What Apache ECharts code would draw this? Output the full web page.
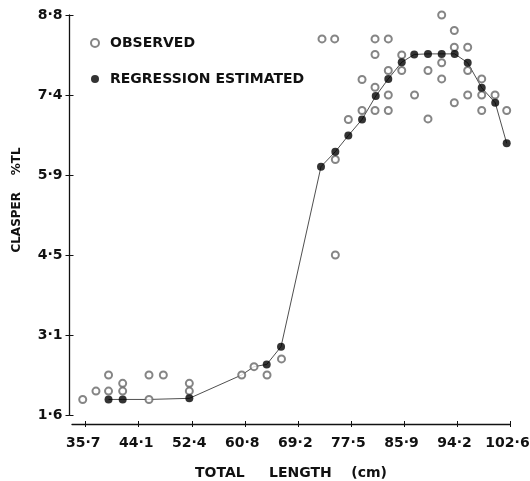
<!DOCTYPE html>
<html>
<head>
<meta charset="utf-8">
<script src="https://cdn.jsdelivr.net/npm/echarts@6/dist/echarts.min.js"></script>
<style>
  html, body { margin: 0; padding: 0; background: #fff; }
  #main { width: 530px; height: 481px; }
</style>
</head>
<body>
<div id="main"></div>
<script>
// observed clasper length (%TL) against total length (cm)
var obsX = [35.23, 37.32, 39.3, 39.3, 41.53, 41.53, 45.68, 47.94, 45.68, 52.04,
  52.04, 60.3, 62.24, 64.29, 66.57, 75.06, 75.06, 72.96, 74.96, 77.11,
  79.27, 79.27, 81.32, 81.32, 81.32, 81.32, 83.41, 83.41, 83.41, 83.41,
  85.53, 85.53, 87.55, 89.67, 89.67, 91.83, 91.83, 91.83, 93.82, 93.82,
  93.82, 95.93, 95.93, 95.93, 98.14, 98.14, 98.14, 100.24, 102.08];
var obsY = [1.88, 2.03, 2.32, 2.03, 2.17, 2.03, 2.32, 2.32, 1.88, 2.17,
  2.03, 2.32, 2.47, 2.32, 2.61, 4.48, 6.20, 8.37, 8.37, 6.92,
  7.64, 7.08, 8.37, 8.09, 7.50, 7.08, 8.37, 7.80, 7.36, 7.08,
  8.08, 7.80, 7.36, 7.80, 6.93, 8.80, 7.94, 7.65, 8.52, 8.22,
  7.22, 8.22, 7.80, 7.36, 7.65, 7.36, 7.08, 7.36, 7.08];

// regression curve; estFlag = 1 where an estimated (filled) point is drawn
var regX = [39.3, 41.53, 45.68, 52.04, 60.28, 62.24, 64.24, 66.5, 72.8, 75.06,
  77.11, 79.27, 81.43, 83.41, 85.53, 87.5, 89.67, 91.83, 93.88, 95.93,
  98.14, 100.27, 102.08];
var regY = [1.88, 1.88, 1.88, 1.90, 2.32, 2.47, 2.51, 2.83, 6.07, 6.34,
  6.63, 6.92, 7.34, 7.65, 7.95, 8.09, 8.10, 8.10, 8.10, 7.94,
  7.49, 7.22, 6.49];
var estFlag = [1, 1, 0, 1, 0, 0, 1, 1, 1, 1,
  1, 1, 1, 1, 1, 1, 1, 1, 1, 1,
  1, 1, 1];

var xTicks = [35.7, 44.0625, 52.425, 60.7875, 69.15, 77.5125, 85.875, 94.2375, 102.6];
var xTickLabels = ['35·7', '44·1', '52·4', '60·8', '69·2', '77·5', '85·9', '94·2', '102·6'];
var yTicks = [1.6, 3.04, 4.48, 5.92, 7.36, 8.8];
var yTickLabels = ['1·6', '3·1', '4·5', '5·9', '7·4', '8·8'];

var font = 'DejaVu Sans';

function tickLabel(ticks, labels) {
  return function (v) {
    var best = 0;
    for (var i = 1; i < ticks.length; i++) {
      if (Math.abs(ticks[i] - v) < Math.abs(ticks[best] - v)) best = i;
    }
    return labels[best];
  };
}

var obsData = obsX.map(function (x, i) { return [x, obsY[i]]; });
var regLine = regX.map(function (x, i) { return [x, regY[i]]; });
var regDots = regLine.filter(function (p, i) { return estFlag[i] === 1; });

var myChart = echarts.init(document.getElementById('main'), null, { renderer: 'canvas' });

var xBase = {
  type: 'value',
  min: 33.54,
  max: 102.6,
  position: 'bottom',
  offset: 9,
  splitLine: { show: false }
};
var yBase = {
  type: 'value',
  min: 1.6,
  max: 8.8,
  position: 'left',
  offset: 2.5,
  splitLine: { show: false }
};

var option = {
  backgroundColor: '#fff',
  animation: false,
  grid: { left: 72, right: 20, top: 15, bottom: 66, outerBoundsMode: 'none', containLabel: false },
  legend: {
    orient: 'vertical',
    left: 85,
    top: 31,
    itemWidth: 16,
    itemHeight: 8,
    itemGap: 22,
    textStyle: { fontFamily: font, fontWeight: 'bold', fontSize: 14, color: '#111', padding: [0, 0, 0, 2] },
    data: [
      { name: 'OBSERVED', icon: 'emptyCircle' },
      { name: 'REGRESSION ESTIMATED', icon: 'circle' }
    ]
  },
  xAxis: [
    Object.assign({}, xBase, {
      name: 'TOTAL     LENGTH    (cm)',
      nameLocation: 'middle',
      nameGap: 42,
      nameTextStyle: { fontFamily: font, fontWeight: 'bold', fontSize: 14, color: '#111' },
      axisLine: { lineStyle: { color: '#111', width: 1.3 } },
      axisTick: { length: 3, lineStyle: { color: '#111' }, customValues: xTicks },
      axisLabel: {
        fontFamily: font, fontWeight: 'bold', fontSize: 14, color: '#111', margin: 12,
        padding: [0, 5, 0, 0],
        customValues: xTicks, formatter: tickLabel(xTicks, xTickLabels)
      }
    }),
    Object.assign({}, xBase, {
      axisLine: { show: false },
      axisTick: { inside: true, length: 3, lineStyle: { color: '#111' }, customValues: xTicks },
      axisLabel: { show: false }
    })
  ],
  yAxis: [
    Object.assign({}, yBase, {
      name: 'CLASPER    %TL',
      nameLocation: 'middle',
      nameRotate: 90,
      nameGap: 47,
      nameTextStyle: { fontFamily: font, fontWeight: 'bold', fontSize: 12, color: '#111', padding: [0, 0, 0, 30] },
      axisLine: { lineStyle: { color: '#111', width: 1.3 } },
      axisTick: { length: 4, lineStyle: { color: '#111' }, customValues: yTicks },
      axisLabel: {
        fontFamily: font, fontWeight: 'bold', fontSize: 14, color: '#111', margin: 7,
        customValues: yTicks, formatter: tickLabel(yTicks, yTickLabels)
      }
    }),
    Object.assign({}, yBase, {
      axisLine: { show: false },
      axisTick: { inside: true, length: 4, lineStyle: { color: '#111' }, customValues: yTicks },
      axisLabel: { show: false }
    })
  ],
  series: [
    {
      name: 'curve',
      type: 'line',
      data: regLine,
      showSymbol: false,
      lineStyle: { color: '#222', width: 0.8 },
      z: 1
    },
    {
      name: 'OBSERVED',
      type: 'scatter',
      data: obsData,
      symbol: 'emptyCircle',
      symbolSize: 7,
      itemStyle: { color: '#666', borderColor: '#666', borderWidth: 0.9 },
      z: 2
    },
    {
      name: 'REGRESSION ESTIMATED',
      type: 'scatter',
      data: regDots,
      symbol: 'circle',
      symbolSize: 8,
      itemStyle: { color: '#000' },
      z: 3
    }
  ]
};

myChart.setOption(option);
</script>
</body>
</html>
